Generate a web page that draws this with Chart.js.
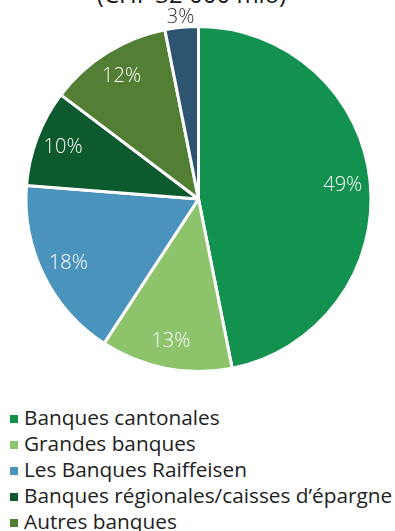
<!DOCTYPE html>
<html>
<head>
<meta charset="utf-8">
<script src="https://cdn.jsdelivr.net/npm/chart.js@4.4.1/dist/chart.umd.min.js"></script>
<style>
  html, body { margin: 0; padding: 0; background: #fff; }
  body { width: 395px; height: 531px; overflow: hidden; position: relative; font-family: 'Open Sans', sans-serif; }
  .title { position: absolute; left: 0; top: -50px; width: 383px; text-align: center; font-size: 24px; font-weight: 500; line-height: 29px; color: #1a1a1a; }
  .chart-box { position: absolute; left: 0; top: 0; width: 395px; height: 373px; }
  .legend { position: absolute; left: 0; top: 404px; margin: 0; padding: 0; list-style: none; }
  .legend li { height: 26px; line-height: 26px; font-size: 20.8px; color: #222; white-space: nowrap; }
  .legend .sw { display: inline-block; width: 8px; height: 8px; margin: 0 6px 0 10px; vertical-align: 2px; }
</style>
</head>
<body>
<div class="title">Dépôts d’épargne<br>(CHF 32 000 mio)</div>
<div class="chart-box"><canvas id="pieChart"></canvas></div>
<ul class="legend" id="pieLegend"></ul>
<script>
// Dépôts par groupe de banques, CHF mio
const categories = [
  'Banques cantonales',
  'Grandes banques',
  'Les Banques Raiffeisen',
  'Banques régionales/caisses d’épargne',
  'Autres banques',
  'Banques étrangères'
];
const values = [15000, 3950, 5450, 2900, 3700, 1000];
const shareLabels = ['49%', '13%', '18%', '10%', '12%', '3%'];
const colors = ['#13924f', '#8dc46b', '#4a93bd', '#0c5a2e', '#537f35', '#2d5470'];

const FONT = "'Open Sans', sans-serif";

// percent labels: inside the slice, small slices outside
const sliceLabels = {
  id: 'sliceLabels',
  afterDatasetsDraw(chart) {
    const ctx = chart.ctx;
    const meta = chart.getDatasetMeta(0);
    const total = values.reduce((a, b) => a + b, 0);
    ctx.save();
    ctx.font = `300 20px ${FONT}`;
    ctx.textAlign = 'center';
    ctx.textBaseline = 'middle';
    meta.data.forEach((arc, i) => {
      const { x, y, startAngle, endAngle, outerRadius } = arc.getProps(['x', 'y', 'startAngle', 'endAngle', 'outerRadius'], true);
      const mid = (startAngle + endAngle) / 2;
      const small = values[i] / total < 0.05;
      const r = small ? outerRadius + 10 : outerRadius * 0.84;
      ctx.fillStyle = small ? '#333' : '#fff';
      ctx.fillText(shareLabels[i], x + Math.cos(mid) * r, y + Math.sin(mid) * r);
    });
    ctx.restore();
  }
};

const chart = new Chart(document.getElementById('pieChart'), {
  type: 'pie',
  data: {
    labels: categories,
    datasets: [{
      data: values,
      backgroundColor: colors,
      borderColor: '#ffffff',
      borderWidth: 3
    }]
  },
  options: {
    responsive: true,
    maintainAspectRatio: false,
    animation: false,
    layout: { padding: { left: 2, top: 25 } },
    plugins: {
      legend: { display: false },
      tooltip: { enabled: false },
      title: { display: false }
    }
  },
  plugins: [sliceLabels]
});

const legendEl = document.getElementById('pieLegend');
chart.data.labels.forEach((label, i) => {
  const li = document.createElement('li');
  li.innerHTML = `<span class="sw" style="background:${colors[i]}"></span>${label}`;
  legendEl.appendChild(li);
});
</script>
</body>
</html>
